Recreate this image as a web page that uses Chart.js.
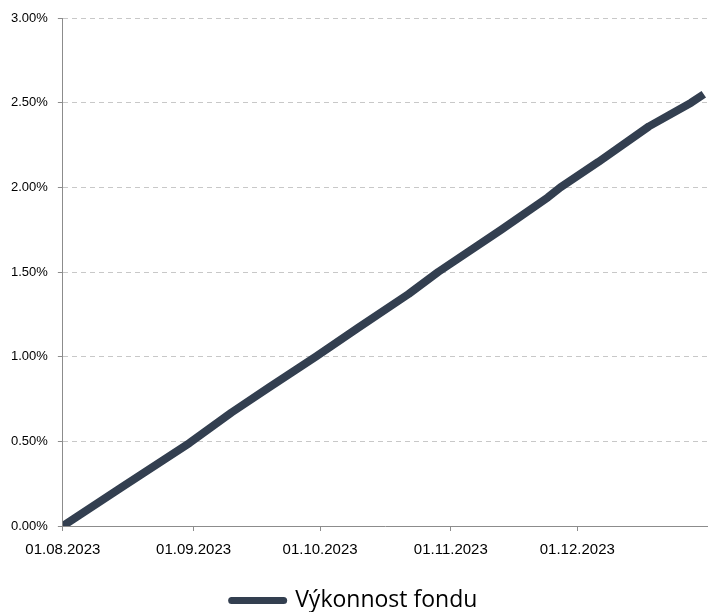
<!DOCTYPE html>
<html lang="cs">
<head>
    <meta charset="UTF-8">
    <title>Výkonnost fondu</title>
    <script src="https://cdn.jsdelivr.net/npm/chart.js"></script>
    <style>
        body {
            margin: 0;
            background: #ffffff;
        }
        #wrap {
            width: 708px;
            height: 612px;
        }
    </style>
</head>
<body>
    <div id="wrap">
        <canvas id="vykonnostChart"></canvas>
    </div>

    <script>
        // hodnoty (v %)
        const datumy = ['01.08.2023', '15.08.2023', '31.08.2023', '10.09.2023', '19.09.2023',
                        '30.09.2023', '10.10.2023', '22.10.2023', '29.10.2023', '13.11.2023',
                        '24.11.2023', '27.11.2023', '06.12.2023', '18.12.2023', '28.12.2023',
                        '31.12.2023'];
        const vykonnost = [0.00, 0.23, 0.49, 0.67, 0.82,
                           1.00, 1.17, 1.37, 1.50, 1.75,
                           1.94, 2.00, 2.15, 2.36, 2.50,
                           2.55];
        const mesice = ['01.08.2023', '01.09.2023', '01.10.2023', '01.11.2023', '01.12.2023', '01.01.2024'];
        const nazevSerie = 'Výkonnost fondu';

        function naDny(text) {
            const [d, m, r] = text.split('.').map(Number);
            return Date.UTC(r, m - 1, d) / 86400000;
        }

        function naText(dny) {
            const dt = new Date(dny * 86400000);
            const dd = String(dt.getUTCDate()).padStart(2, '0');
            const mm = String(dt.getUTCMonth() + 1).padStart(2, '0');
            return `${dd}.${mm}.${dt.getUTCFullYear()}`;
        }

        const body = datumy.map((d, i) => ({ x: naDny(d), y: vykonnost[i] }));
        const tickyX = mesice.map(naDny);
        const barva = '#333f50';

        const ctx = document.getElementById('vykonnostChart').getContext('2d');
        new Chart(ctx, {
            type: 'line',
            data: {
                datasets: [{
                    label: nazevSerie,
                    data: body,
                    borderColor: barva,
                    backgroundColor: barva,
                    borderWidth: 8,
                    pointRadius: 0,
                    tension: 0,
                    borderJoinStyle: 'round',
                    fill: false
                }]
            },
            options: {
                responsive: true,
                maintainAspectRatio: false,
                animation: false,
                layout: {
                    padding: { left: 1, right: 0, top: 18, bottom: -10 }
                },
                scales: {
                    x: {
                        type: 'linear',
                        min: tickyX[0],
                        max: tickyX[tickyX.length - 1],
                        afterBuildTicks: (scale) => {
                            scale.ticks = tickyX.map(v => ({ value: v }));
                        },
                        afterFit: (scale) => {
                            scale.height += 19; // mezera mezi osou a legendou
                            scale.paddingRight = 0; // graf až k pravému okraji
                        },
                        grid: {
                            drawOnChartArea: false,
                            drawTicks: true,
                            tickLength: 5,
                            tickColor: '#8c8c8c'
                        },
                        border: { color: '#8c8c8c', width: 1 },
                        ticks: {
                            autoSkip: false,
                            maxRotation: 0,
                            padding: 10,
                            color: '#000000',
                            font: { family: "'Liberation Sans', Arial, sans-serif", size: 15 },
                            callback: (v, i) => i === tickyX.length - 1 ? '' : naText(v)
                        }
                    },
                    y: {
                        min: 0,
                        max: 3,
                        ticks: {
                            stepSize: 0.5,
                            padding: 10,
                            color: '#000000',
                            font: { family: "'Liberation Sans', Arial, sans-serif", size: 13 },
                            callback: v => v.toFixed(2) + '%'
                        },
                        grid: {
                            color: '#c8c8c8',
                            tickColor: '#8c8c8c',
                            tickLength: 5,
                            tickBorderDash: []
                        },
                        border: { color: '#8c8c8c', width: 1, dash: [5, 4] }
                    }
                },
                plugins: {
                    tooltip: { enabled: false },
                    legend: {
                        display: true,
                        position: 'bottom',
                        labels: {
                            color: '#000000',
                            usePointStyle: true,
                            pointStyle: 'line',
                            pointStyleWidth: 52,
                            boxHeight: 7,
                            padding: 1,
                            font: { family: "'Open Sans', sans-serif", size: 23 },
                            generateLabels: (chart) => {
                                const items = Chart.defaults.plugins.legend.labels.generateLabels(chart);
                                items.forEach(it => {
                                    it.lineWidth = 7;
                                    it.lineCap = 'round';
                                    it.strokeStyle = barva;
                                    it.pointStyle = 'line';
                                });
                                return items;
                            }
                        }
                    }
                }
            }
        });
    </script>
</body>
</html>
